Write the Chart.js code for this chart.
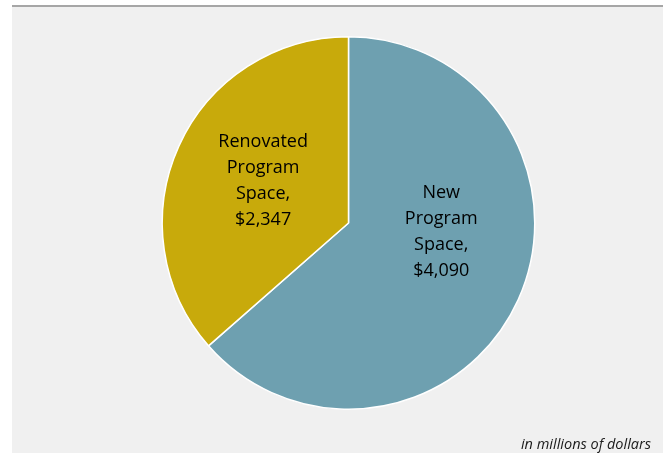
<!DOCTYPE html>
<html>
<head>
<meta charset="utf-8">
<script src="https://cdn.jsdelivr.net/npm/chart.js@4/dist/chart.umd.min.js"></script>
<style>
  html, body { margin: 0; padding: 0; background: #ffffff; }
  #panel {
    position: absolute; left: 12px; top: 5px; width: 651px; height: 446px;
    background: #f0f0f0; border-top: 2px solid #a6a6a6;
  }
  #wrap { position: absolute; left: 0; top: 0; width: 665px; height: 453px; }
  #note {
    position: absolute; right: 14px; top: 434px;
    font: italic 14.5px "Open Sans", sans-serif; color: #1a1a1a;
  }
</style>
</head>
<body>
<div id="panel"></div>
<div id="wrap"><canvas id="myChart" width="665" height="453"></canvas></div>
<div id="note">in millions of dollars</div>
<script>
const labels = ['New Program Space', 'Renovated Program Space']
const labelLines = [['New', 'Program', 'Space,', '$4,090'], ['Renovated', 'Program', 'Space,', '$2,347']]
const values = [4090, 2347]
const colors = ['#6ea0b0', '#c8aa0b']

// where each label sits: angle (deg, clockwise from 3 o'clock) and fraction of radius
const labelPlace = [{ angle: 5.3, frac: 0.5 }, { angle: 206, frac: 0.51 }]

const sliceLabels = {
    id: 'sliceLabels',
    afterDatasetsDraw(chart) {
        const ctx = chart.ctx
        const meta = chart.getDatasetMeta(0)
        ctx.save()
        ctx.font = '18px "Open Sans", sans-serif'
        ctx.fillStyle = '#000000'
        ctx.textAlign = 'center'
        ctx.textBaseline = 'middle'
        meta.data.forEach((arc, i) => {
            const p = labelPlace[i]
            const a = p.angle * Math.PI / 180
            const cx = arc.x + Math.cos(a) * arc.outerRadius * p.frac
            const cy = arc.y + Math.sin(a) * arc.outerRadius * p.frac
            const lines = labelLines[i]
            const lh = 26
            lines.forEach((t, j) => {
                ctx.fillText(t, cx, cy + (j - (lines.length - 1) / 2) * lh)
            })
        })
        ctx.restore()
    }
}

let ctx = document.getElementById('myChart').getContext('2d')
const config = {
    type: 'pie',
    data: {
        labels: labels,
        datasets: [{
            data: values,
            backgroundColor: colors,
            borderColor: '#ffffff',
            borderWidth: 1.5
        }]
    },
    options: {
        responsive: false,
        animation: false,
        layout: { padding: { left: 32, right: 0, top: 36, bottom: 43 } },
        plugins: {
            legend: { display: false },
            tooltip: { enabled: false }
        }
    },
    plugins: [sliceLabels]
}
let myChart = new Chart(ctx, config)
</script>
</body>
</html>
